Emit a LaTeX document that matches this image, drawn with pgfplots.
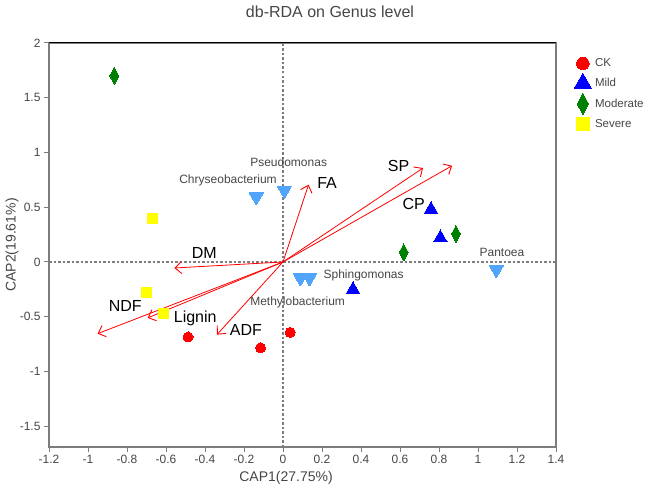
\documentclass[border=0pt]{standalone}
\usepackage{fontspec}
\setmainfont{Liberation Sans}
\usepackage{pgfplots}
\pgfplotsset{compat=1.18}
\usetikzlibrary{arrows.meta}
\definecolor{ckred}{RGB}{255,0,0}
\definecolor{mildblue}{RGB}{0,0,255}
\definecolor{modgreen}{RGB}{0,128,0}
\definecolor{sevyellow}{RGB}{255,255,0}
\definecolor{genusblue}{RGB}{80,165,250}
\definecolor{framegray}{RGB}{125,125,125}
\definecolor{txtgray}{RGB}{70,70,70}
\pgfplotsset{
  grp/.style={only marks,
    legend image code/.code={\draw[##1, only marks, every mark/.append style={scale=1.25}]
      plot coordinates {(6pt,0pt)};}},
  envarrow/.style={ckred, line width=0.8pt, forget plot,
    -{Straight Barb[length=6.5pt,width=12pt,line width=0.9pt]}},
}
\tikzset{
  envlab/.style={font=\fontsize{16}{18}\selectfont, text=black},
  genlab/.style={font=\fontsize{12}{14}\selectfont, text=txtgray},
}
\begin{document}
\begin{tikzpicture}[x=1pt,y=1pt]
\path[use as bounding box] (0,0) rectangle (647,491);
\begin{axis}[
  at={(49pt,44pt)}, anchor=south west,
  scale only axis, width=507pt, height=404pt,
  xmin=-1.2, xmax=1.4, ymin=-1.69, ymax=2,
  xtick={-1.2,-1,-0.8,-0.6,-0.4,-0.2,0,0.2,0.4,0.6,0.8,1,1.2,1.4},
  ytick={-1.5,-1,-0.5,0,0.5,1,1.5,2},
  /pgf/number format/assume math mode=true,
  tick pos=left, tick align=outside,
  major tick length=5pt,
  tick style={framegray, line width=1pt},
  axis line style={framegray, line width=1.3pt},
  ticklabel style={font=\fontsize{12}{14}\selectfont, text=txtgray},
  clip=false,
  legend style={at={(rel axis cs:1,1)}, anchor=north west,
    xshift=18pt, yshift=-14pt, draw=none, fill=none,
    font=\fontsize{11.5}{13}\selectfont, text=txtgray,
    row sep=3.5pt, inner sep=0pt,
    nodes={inner sep=1.5pt},
    /tikz/every odd column/.append style={column sep=2pt}},
  legend cell align=left,
]
% zero lines
\addplot[framegray, line width=1.2pt, dash pattern=on 2.5pt off 2pt, forget plot]
  coordinates {(0,-1.69) (0,2)};
\addplot[framegray, line width=1.2pt, dash pattern=on 2.5pt off 2pt, forget plot]
  coordinates {(-1.2,0) (1.4,0)};
\draw[black, line width=1pt] (rel axis cs:0,1) -- (rel axis cs:1,1);

% environmental arrows
\addplot[envarrow] coordinates {(0,0) (0.131,0.706)};
\addplot[envarrow] coordinates {(0,0) (0.718,0.858)};
\addplot[envarrow] coordinates {(0,0) (0.867,0.879)};
\addplot[envarrow] coordinates {(0,0) (-0.557,-0.055)};
\addplot[envarrow] coordinates {(0,0) (-0.694,-0.511)};
\addplot[envarrow] coordinates {(0,0) (-0.951,-0.655)};
\addplot[envarrow] coordinates {(0,0) (-0.339,-0.664)};

% genus scores
\addplot[grp, forget plot, color=genusblue, mark=triangle*, mark size=8pt,
  mark options={rotate=180, fill=genusblue, draw=genusblue, line width=0pt}]
  coordinates {(-0.137,0.594) (0.007,0.654) (0.089,-0.146) (0.136,-0.146) (1.094,-0.07)};

% samples
\addplot[grp, color=ckred, mark=*, mark size=5pt,
  mark options={fill=ckred, draw=ckred, line width=0pt}]
  coordinates {(-0.487,-0.685) (-0.115,-0.785) (0.037,-0.643)};
\addlegendentry{CK}
\addplot[grp, color=mildblue, mark=triangle*, mark size=8pt,
  mark options={fill=mildblue, draw=mildblue, line width=0pt}]
  coordinates {(0.759,0.478) (0.807,0.219) (0.359,-0.253)};
\addlegendentry{Mild}
\addplot[grp, color=modgreen, mark=diamond*, mark size=8.5pt,
  mark options={xscale=0.7, fill=modgreen, draw=modgreen, line width=0pt}]
  coordinates {(-0.865,1.70) (0.887,0.256) (0.619,0.088)};
\addlegendentry{Moderate}
\addplot[grp, color=sevyellow, mark=square*, mark size=5pt,
  mark options={fill=sevyellow, draw=sevyellow, line width=0pt}]
  coordinates {(-0.67,0.40) (-0.701,-0.278) (-0.615,-0.472)};
\addlegendentry{Severe}

% labels
\node[envlab] at (axis cs:0.226,0.721) {FA};
\node[envlab] at (axis cs:0.593,0.873) {SP};
\node[envlab] at (axis cs:0.67,0.532) {CP};
\node[envlab] at (axis cs:-0.404,0.082) {DM};
\node[envlab] at (axis cs:-0.809,-0.405) {NDF};
\node[envlab] at (axis cs:-0.45,-0.511) {Lignin};
\node[envlab] at (axis cs:-0.19,-0.618) {ADF};
\node[genlab] at (axis cs:0.029,0.91) {Pseudomonas};
\node[genlab] at (axis cs:-0.282,0.745) {Chryseobacterium};
\node[genlab, anchor=west] at (axis cs:0.19,-0.125) {Sphingomonas};
\node[genlab] at (axis cs:0.075,-0.365) {Methylobacterium};
\node[genlab] at (axis cs:1.123,0.088) {Pantoea};
\end{axis}
\node[font=\fontsize{16}{19}\selectfont, text=txtgray] at (330,479) {db-RDA on Genus level};
\node[font=\fontsize{14}{16}\selectfont, text=txtgray] at (286,13) {CAP1(27.75\%)};
\node[font=\fontsize{14}{16}\selectfont, text=txtgray, rotate=90] at (12,246) {CAP2(19.61\%)};
\end{tikzpicture}
\end{document}
